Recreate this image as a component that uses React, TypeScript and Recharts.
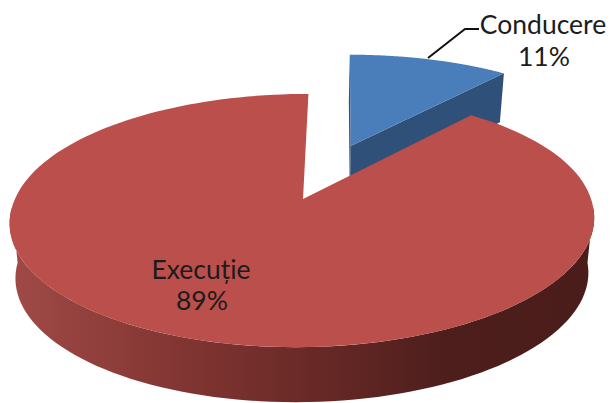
import { PieChart, Pie, Cell } from 'recharts'

const SLICE_NAMES = ['Conducere', 'Execuție']
const SLICE_VALUES = [11, 89]
const SLICE_COLORS = ['#4a7ebb', '#bb4f4c']
const WALL_COLORS = ['#2f5078', 'url(#redWall)']
const EXPLODE = [0.495, 0]

const data = SLICE_NAMES.map((name, i) => ({ name, value: SLICE_VALUES[i] }))

// flattening + perspective used to fake the tilted 3D look
const TILT = 0.427
const PERSP = 0.17
const SKEW = 0.022
const DEPTH = 55
const NARROW = 0.98
const RAD = Math.PI / 180

type Pt = [number, number]

function project(cx: number, cy: number, r: number, u: number, v: number): Pt {
  const w = 1 + PERSP * v
  return [cx + (r * (u + SKEW * v + 0.012 * u * Math.max(v, 0))) / w, cy - (r * TILT * v) / w]
}

function toPath(pts: Pt[]) {
  return 'M' + pts.map(p => `${p[0].toFixed(2)},${p[1].toFixed(2)}`).join('L') + 'Z'
}

function wallDepth(v: number) {
  return DEPTH - 5 * Math.max(v, 0)
}

function Slice3D(props: any) {
  const { cx, cy, outerRadius: r, startAngle, endAngle, index } = props
  const mid = ((startAngle + endAngle) / 2) * RAD
  const du = EXPLODE[index] * Math.cos(mid)
  const dv = EXPLODE[index] * Math.sin(mid)
  const at = (deg: number, k = 1): Pt => project(cx, cy, r, du + k * Math.cos(deg * RAD), dv + k * Math.sin(deg * RAD))
  // bottom face sits further away, so it comes out a bit narrower
  const down = (p: Pt, v: number): Pt => [cx + (p[0] - cx) * NARROW, p[1] + wallDepth(v)]

  const lo = Math.min(startAngle, endAngle)
  const hi = Math.max(startAngle, endAngle)
  const steps = 160
  const top: Pt[] = [at(0, 0)]
  for (let i = 0; i <= steps; i++) top.push(at(lo + ((hi - lo) * i) / steps))

  // front rim, only the part facing the viewer
  const rim: Pt[] = []
  const rimLow: Pt[] = []
  for (let a = -176; a <= -4; a += 2) {
    if (a < lo || a > hi) continue
    const p = at(a)
    rim.push(p)
    rimLow.unshift(down(p, dv + Math.sin(a * RAD)))
  }

  // cut faces only show on the pulled-out slice
  const apex = at(0, 0)
  const edges = EXPLODE[index] > 0 ? [lo, hi].map(a => {
    const p = at(a)
    return [apex, p, down(p, dv + Math.sin(a * RAD)), down(apex, dv)] as Pt[]
  }) : []

  const wall = WALL_COLORS[index]
  return (
    <g>
      {edges.map((q, i) => <path key={i} d={toPath(q)} fill={wall} />)}
      {rim.length > 1 && <path d={toPath([...rim, ...rimLow])} fill={wall} />}
      <path d={toPath(top)} fill={SLICE_COLORS[index]} />
    </g>
  )
}

const TEXT_STYLE = { fontFamily: 'Lato, sans-serif', fontSize: 26.5, fill: '#1c1c1c' }

function SliceLabel(props: any) {
  const { name, percent, index } = props
  const pct = `${Math.round(percent * 100)}%`
  if (index === 0) {
    return (
      <g>
        <polyline points="428,58 465,29 479,29" fill="none" stroke="#111" strokeWidth={2} />
        <text x={543} y={34} textAnchor="middle" style={TEXT_STYLE}>{name}</text>
        <text x={544} y={66} textAnchor="middle" style={TEXT_STYLE}>{pct}</text>
      </g>
    )
  }
  return (
    <g>
      <text x={201} y={279} textAnchor="middle" style={TEXT_STYLE}>{name}</text>
      <text x={202} y={310} textAnchor="middle" style={TEXT_STYLE}>{pct}</text>
    </g>
  )
}

export default function App() {
  return (
    <div style={{ position: 'absolute', left: 0, top: 0, width: 611, height: 403, background: '#fff', overflow: 'hidden' }}>
      <PieChart width={611} height={403} margin={{ top: 0, right: 0, bottom: 0, left: 0 }}>
        <defs>
          <linearGradient id="redWall" gradientUnits="userSpaceOnUse" x1={10} y1={0} x2={592} y2={0}>
            <stop offset="0" stopColor="#a04a47" />
            <stop offset="0.28" stopColor="#833633" />
            <stop offset="0.55" stopColor="#652825" />
            <stop offset="0.75" stopColor="#4d1e1c" />
            <stop offset="1" stopColor="#4a1c1a" />
          </linearGradient>
        </defs>
        <Pie
          data={data}
          dataKey="value"
          nameKey="name"
          cx={303}
          cy={199}
          innerRadius={0}
          outerRadius={288}
          startAngle={90}
          endAngle={-270}
          stroke="none"
          shape={Slice3D}
          label={SliceLabel}
          labelLine={false}
          isAnimationActive={false}
        >
          {data.map((d, i) => <Cell key={d.name} fill={SLICE_COLORS[i]} />)}
        </Pie>
      </PieChart>
    </div>
  )
}
